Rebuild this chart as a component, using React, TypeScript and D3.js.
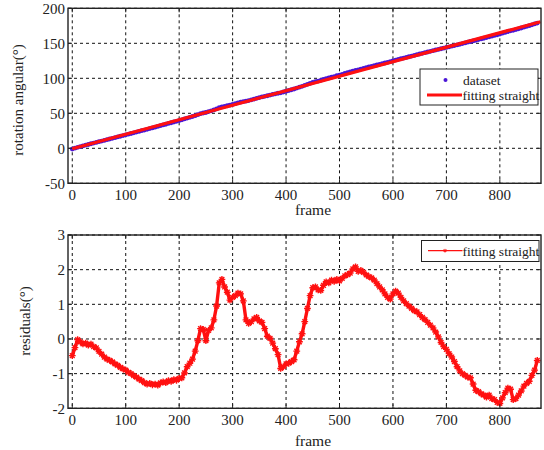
import React from "react";
import * as d3 from "d3";

// frame index of every sample (one sample every 5 frames)
const frames = d3.range(0, 871, 5);

// residuals (degrees)
const residuals = [
  -0.48, -0.25, -0.02, -0.08, -0.14, -0.12, -0.18, -0.15, -0.22, -0.26,
  -0.36, -0.44, -0.52, -0.58, -0.62, -0.66, -0.72, -0.76, -0.82, -0.86,
  -0.9, -0.96, -1.0, -1.06, -1.1, -1.16, -1.2, -1.26, -1.3, -1.28,
  -1.32, -1.3, -1.33, -1.27, -1.24, -1.26, -1.2, -1.22, -1.17, -1.19,
  -1.14, -1.12, -0.98, -0.8, -0.7, -0.58, -0.35, -0.05, 0.3, 0.28,
  -0.05, 0.25, 0.32, 0.55, 0.95, 1.62, 1.72, 1.5, 1.35, 1.12,
  1.2, 1.25, 1.32, 1.3, 1.1, 0.55, 0.45, 0.5, 0.58, 0.62,
  0.52, 0.48, 0.3, 0.08, 0.02, -0.12, -0.28, -0.45, -0.85, -0.8,
  -0.72, -0.7, -0.65, -0.6, -0.35, -0.08, 0.15, 0.5, 0.88, 1.25,
  1.48, 1.5, 1.42, 1.4, 1.55, 1.65, 1.62, 1.7, 1.66, 1.72,
  1.68, 1.75, 1.82, 1.86, 1.9, 2.02, 2.08, 1.95, 1.98, 1.92,
  1.85, 1.8, 1.76, 1.7, 1.6, 1.5, 1.42, 1.3, 1.2, 1.15,
  1.3, 1.38, 1.32, 1.2, 1.1, 1.02, 0.95, 0.88, 0.82, 0.78,
  0.7, 0.62, 0.56, 0.48, 0.4, 0.32, 0.2, 0.06, -0.1, -0.22,
  -0.3, -0.42, -0.52, -0.65, -0.8, -0.92, -1.0, -1.05, -1.1, -1.12,
  -1.3, -1.48, -1.52, -1.58, -1.62, -1.68, -1.62, -1.72, -1.75, -1.83,
  -1.86, -1.7, -1.55, -1.42, -1.45, -1.75, -1.72, -1.62, -1.5, -1.36,
  -1.28, -1.22, -1.05, -0.9, -0.62,
];

// fitted straight line, endpoints [frame, angle]
const fitLine = [[0, -0.6], [876, 180.8]];

const xTicks = [0, 100, 200, 300, 400, 500, 600, 700, 800];
const yTicksTop = [-50, 0, 50, 100, 150, 200];
const yTicksBottom = [-2, -1, 0, 1, 2, 3];

const FONT = "Liberation Serif, Times New Roman, DejaVu Serif, serif";
const BLUE = "#4a16d6";
const RED = "#ff1010";

const txt = (size: number) => ({ fontFamily: FONT, fontSize: size + "px", fill: "#222" });

const fitAt = (f: number) =>
  fitLine[0][1] + ((fitLine[1][1] - fitLine[0][1]) * (f - fitLine[0][0])) / (fitLine[1][0] - fitLine[0][0]);

// dataset = fitted line + residual
const dataset = frames.map((f, i) => [f, fitAt(f) + residuals[i]]);

const starPath = (x: number, y: number, s: number) =>
  `M${x - s},${y}H${x + s}M${x},${y - s}V${y + s}` +
  `M${x - s * 0.7},${y - s * 0.7}L${x + s * 0.7},${y + s * 0.7}` +
  `M${x - s * 0.7},${y + s * 0.7}L${x + s * 0.7},${y - s * 0.7}`;

const Grid = ({ x, y, yTicks, top, bottom }) => {
  const [x0, x1] = x.range();
  return (
    <g>
      {xTicks.map(t => (
        <line key={"gx" + t} x1={x(t)} x2={x(t)} y1={top} y2={bottom}
          stroke="#111" strokeWidth={1} strokeDasharray="3,3" />
      ))}
      {yTicks.map(t => (
        <line key={"gy" + t} x1={x0} x2={x1} y1={y(t)} y2={y(t)}
          stroke="#111" strokeWidth={1} strokeDasharray="3,3" />
      ))}
    </g>
  );
};

const Box = ({ x, y, yTicks, top, bottom }) => {
  const [x0, x1] = x.range();
  return (
    <g>
      <rect x={x0} y={top} width={x1 - x0} height={bottom - top}
        fill="none" stroke="#222" strokeWidth={1.4} />
      {xTicks.map(t => (
        <g key={"tx" + t}>
          <line x1={x(t)} x2={x(t)} y1={bottom} y2={bottom - 4} stroke="#222" />
          <line x1={x(t)} x2={x(t)} y1={top} y2={top + 4} stroke="#222" />
        </g>
      ))}
      {yTicks.map(t => (
        <g key={"ty" + t}>
          <line x1={x0} x2={x0 + 4} y1={y(t)} y2={y(t)} stroke="#222" />
          <line x1={x1} x2={x1 - 4} y1={y(t)} y2={y(t)} stroke="#222" />
          <text x={x0 - 3} y={y(t)} dy="0.35em" textAnchor="end" style={txt(15)}>{t}</text>
        </g>
      ))}
      {xTicks.map(t => (
        <text key={"lx" + t} x={x(t)} y={bottom + 17} textAnchor="middle" style={txt(15)}>{t}</text>
      ))}
    </g>
  );
};

const App = () => {
  const x = d3.scaleLinear().domain([-8, 877]).range([68, 541]);
  const yTop = d3.scaleLinear().domain([-50, 200]).range([183.3, 8.3]);
  const yBot = d3.scaleLinear().domain([-2, 3]).range([408.3, 235]);

  const fitPath = d3.line().x(d => x(d[0])).y(d => yTop(d[1]))(fitLine as any);
  const resPts = frames.map((f, i) => [x(f), yBot(residuals[i])]);
  const resPath = d3.line()(resPts as any);

  return (
    <svg width={544} height={450}
      style={{ position: "absolute", left: 0, top: 0, background: "#fff" }}>
      {/* top panel */}
      <Grid x={x} y={yTop} yTicks={yTicksTop} top={8.3} bottom={183.3} />
      {dataset.map((d, i) => (
        <circle key={i} cx={x(d[0])} cy={yTop(d[1])} r={2.4} fill={BLUE} />
      ))}
      <path d={fitPath} fill="none" stroke={RED} strokeWidth={3.2} />
      <Box x={x} y={yTop} yTicks={yTicksTop} top={8.3} bottom={183.3} />
      <text x={313} y={215} textAnchor="middle" style={txt(15.5)}>frame</text>
      <text transform="translate(23,100) rotate(-90)" textAnchor="middle" style={txt(15)}>rotation angular(°)</text>

      <g>
        <rect x={420} y={69} width={118} height={36} fill="#fff" stroke="#222" strokeWidth={1} />
        <circle cx={445.5} cy={80} r={2} fill={BLUE} />
        <text x={463} y={84.5} style={txt(13.5)}>dataset</text>
        <line x1={427} x2={462} y1={95} y2={95} stroke={RED} strokeWidth={3} />
        <text x={462.5} y={99.5} style={txt(13.5)}>fitting straight</text>
      </g>

      {/* bottom panel */}
      <Grid x={x} y={yBot} yTicks={yTicksBottom} top={235} bottom={408.3} />
      <path d={resPath} fill="none" stroke={RED} strokeWidth={3.4} strokeLinejoin="round" />
      <path d={resPts.map(p => starPath(p[0], p[1], 3.4)).join("")}
        fill="none" stroke={RED} strokeWidth={1.4} />
      <Box x={x} y={yBot} yTicks={yTicksBottom} top={235} bottom={408.3} />
      <text x={313} y={446} textAnchor="middle" style={txt(15.5)}>frame</text>
      <text transform="translate(30,321) rotate(-90)" textAnchor="middle" style={txt(15)}>residuals(°)</text>

      <g>
        <rect x={421.5} y={240.5} width={117.5} height={21} fill="#fff" stroke="#222" strokeWidth={1} />
        <line x1={428} x2={462.5} y1={250.7} y2={250.7} stroke={RED} strokeWidth={1.2} />
        <path d={starPath(445, 250.7, 1.8)} fill="none" stroke={RED} strokeWidth={1} />
        <text x={462.5} y={255.5} style={txt(13.5)}>fitting straight</text>
      </g>
    </svg>
  );
};

export default App;
